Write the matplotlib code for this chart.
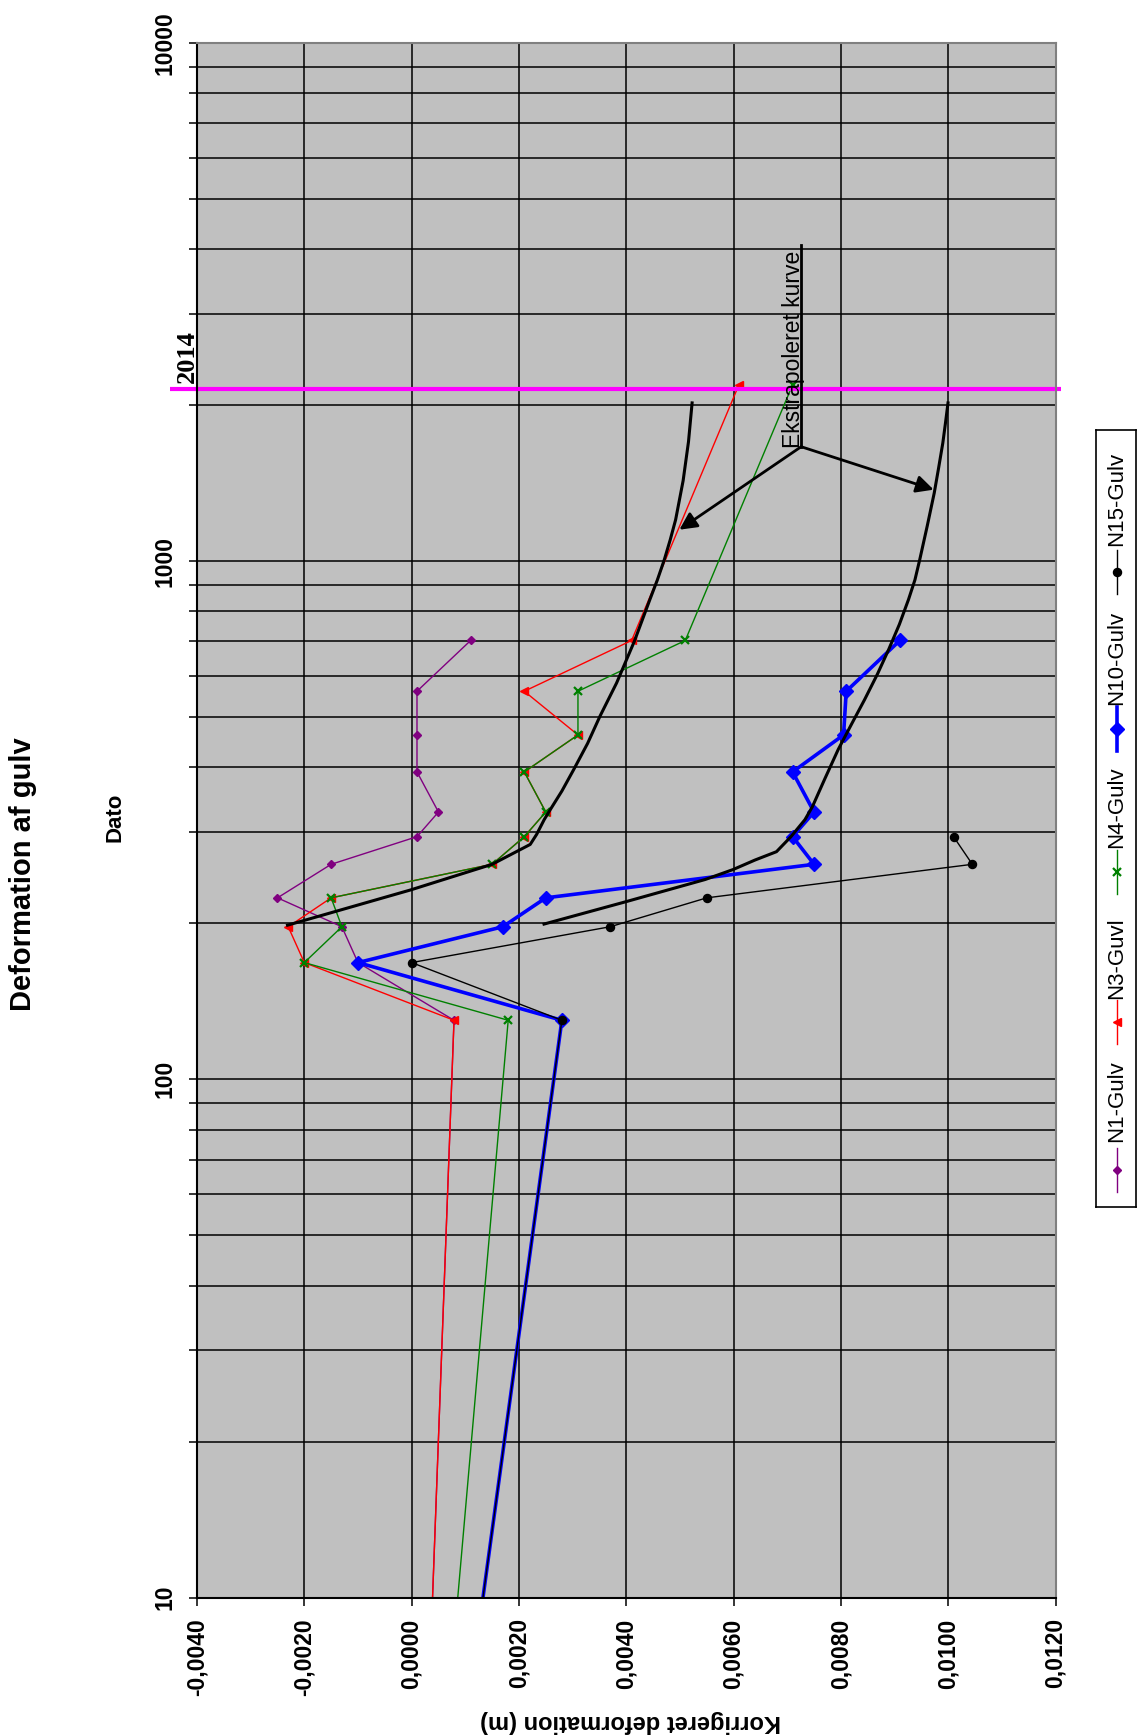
import numpy as np
import matplotlib
matplotlib.use("Agg")
import matplotlib.pyplot as plt
from matplotlib.ticker import LogLocator, NullFormatter

plt.rcParams["font.family"] = ["Liberation Sans", "DejaVu Sans"]

W, H = 1138, 1735

# Measurement days and corrected floor deformation (m)
days = [10, 130, 168, 197, 224, 260, 294, 328, 392, 462, 561, 703]
days_2014 = days + [2190]
n15_days = days[:7]

n1_gulv = [0.00039, 0.00079, -0.0010, -0.0013, -0.0025, -0.0015, 0.0001,
           0.0005, 0.0001, 0.0001, 0.0001, 0.0011]
n3_gulv = [0.00039, 0.00079, -0.0020, -0.0023, -0.0015, 0.0015, 0.0021,
           0.0025, 0.0021, 0.0031, 0.0021, 0.0041, 0.0061]
n4_gulv = [0.00086, 0.0018, -0.0020, -0.0013, -0.0015, 0.0015, 0.0021,
           0.0025, 0.0021, 0.0031, 0.0031, 0.0051, 0.0071]
n10_gulv = [0.00133, 0.0028, -0.0010, 0.0017, 0.0025, 0.0075, 0.0071,
            0.0075, 0.0071, 0.00805, 0.0081, 0.0091]
n15_gulv = [0.00133, 0.0028, 0.0000, 0.0037, 0.0055, 0.01045, 0.0101]

# Extrapolated settlement curves (mm)
ext_a_days = [198, 232, 260, 284, 297, 317, 331, 360, 396, 445, 502, 582, 700, 843,
              920, 1007, 1100, 1202, 1430, 1700, 2034]
ext_a_mm = [-2.34, -0.02, 1.50, 2.21, 2.33, 2.47, 2.58, 2.80, 3.02, 3.28, 3.51, 3.82,
            4.15, 4.44, 4.58, 4.71, 4.82, 4.92, 5.06, 5.16, 5.23]
ext_b_days = [199, 220, 243, 254, 265, 275, 294, 317, 336, 380, 433, 485, 540, 605,
              675, 755, 843, 920, 1007, 1170, 1354, 1510, 1691, 1850, 2034]
ext_b_mm = [2.44, 3.98, 5.47, 5.99, 6.40, 6.80, 7.07, 7.33, 7.47, 7.70, 7.95, 8.20,
            8.44, 8.68, 8.89, 9.09, 9.26, 9.38, 9.47, 9.61, 9.74, 9.82, 9.90, 9.95, 10.00]

day_2014 = 2150
deform_ticks = [-0.004, -0.002, 0.0, 0.002, 0.004, 0.006, 0.008, 0.010, 0.012]
day_ticks = [10, 100, 1000, 10000]

series = [
    ("N1-Gulv", days, n1_gulv, dict(color="#800080", marker="D", ms=3.8, lw=1.0)),
    ("N3-Guvl", days_2014, n3_gulv, dict(color="#FF0000", marker="<", ms=6, lw=1.0)),
    ("N4-Gulv", days_2014, n4_gulv, dict(color="#008000", marker="x", ms=5.5, mew=1.6, lw=1.0)),
    ("N10-Gulv", days, n10_gulv, dict(color="#0000FF", marker="D", ms=6.8, lw=2.6)),
    ("N15-Gulv", n15_days, n15_gulv, dict(color="#000000", marker="o", ms=5.8, lw=1.0)),
]


def fx(x):
    return x / W


def fy(y):
    return 1 - y / H


fig = plt.figure(figsize=(W / 100, H / 100), dpi=100)
left, right, top, bottom = 197, 1055.5, 43, 1597.5
ax = fig.add_axes([fx(left), fy(bottom), (right - left) / W, (bottom - top) / H])
ax.set_facecolor("#C0C0C0")
ax.set_yscale("log")
ax.set_xlim(-0.004, 0.012)
ax.set_ylim(10, 10000)

ax.set_xticks(deform_ticks)
ax.set_xticklabels([f"{v:.4f}".replace(".", ",") for v in deform_ticks])
ax.set_yticks(day_ticks)
ax.set_yticklabels([str(d) for d in day_ticks])
ax.yaxis.set_minor_locator(LogLocator(base=10, subs=np.arange(2, 10)))
ax.yaxis.set_minor_formatter(NullFormatter())

ax.set_axisbelow(True)
ax.grid(which="both", axis="y", color="black", lw=1.1)
ax.grid(which="major", axis="x", color="black", lw=1.1)
ax.tick_params(axis="both", which="both", direction="out", length=6, width=1.1, color="black")
ax.tick_params(axis="x", labelsize=16.5, pad=9, labelrotation=90)
ax.tick_params(axis="y", labelsize=16.5, pad=9, labelrotation=90)
for lbl in ax.get_xticklabels() + ax.get_yticklabels():
    lbl.set_fontweight("bold")
for lbl in ax.get_yticklabels():
    lbl.set_va("center")

for side in ("top", "right"):
    ax.spines[side].set_color("#808080")
    ax.spines[side].set_linewidth(1.5)
for side in ("left", "bottom"):
    ax.spines[side].set_color("black")
    ax.spines[side].set_linewidth(1.5)

# Measured series (first point is the start value, shown without marker)
for name, d, v, st in series:
    ax.plot(v, d, markevery=slice(1, None), label=name, **st)

# Extrapolated curves
ax.plot(np.array(ext_a_mm) / 1000, ext_a_days, color="black", lw=2.2,
        solid_capstyle="butt", solid_joinstyle="round")
ax.plot(np.array(ext_b_mm) / 1000, ext_b_days, color="black", lw=2.2,
        solid_capstyle="butt", solid_joinstyle="round")

# 2014 marker line
ax.plot([-0.0045, 0.0121], [day_2014, day_2014], color="#FF00FF", lw=3.0, clip_on=False,
        solid_capstyle="butt")
ax.annotate("2014", xy=(-0.00418, day_2014), xytext=(0, 6), textcoords="offset pixels",
            rotation=90, ha="center", va="bottom", fontsize=19, fontweight="bold",
            family=["Liberation Serif", "DejaVu Serif"], annotation_clip=False)

# Annotation for the extrapolated curves
arrow_origin = (0.00726, 1663)
ax.plot([arrow_origin[0], arrow_origin[0]], [arrow_origin[1], 4083], color="black", lw=2.0)
for head in [(0.00499, 1150), (0.00973, 1374)]:
    ax.annotate("", xy=head, xytext=arrow_origin,
                arrowprops=dict(arrowstyle="-|>", color="black", lw=2.0, mutation_scale=26,
                                shrinkA=0, shrinkB=0))
ax.text(0.00733, 1656, "Ekstrapoleret kurve", rotation=90, ha="right", va="bottom",
        fontsize=16.5, color="black")

# Axis titles
ax.set_ylabel("Dato", fontsize=16, fontweight="bold", rotation=90, ha="center", va="center")
ax.yaxis.set_label_coords((115 - left) / (right - left), (bottom - 817) / (bottom - top))
ax.set_xlabel("Korrigeret deformation (m)", fontsize=17, fontweight="bold", rotation=180,
              ha="center", va="center")
ax.xaxis.set_label_coords((631 - left) / (right - left), -(1721 - bottom) / (bottom - top))

fig.text(fx(23), fy(874), "Deformation af gulv", rotation=90, fontsize=21, fontweight="bold",
         ha="center", va="center")

# Legend, laid out vertically
leg_box = (1096, 430, 1136, 1207)
lax = fig.add_axes([fx(leg_box[0]), fy(leg_box[3]), (leg_box[2] - leg_box[0]) / W,
                    (leg_box[3] - leg_box[1]) / H])
lax.set_xlim(leg_box[0], leg_box[2])
lax.set_ylim(leg_box[3], leg_box[1])
lax.set_xticks([])
lax.set_yticks([])
for s in lax.spines.values():
    s.set_color("black")
    s.set_linewidth(1.2)
leg_pos = {"N1-Gulv": (1170, 1142), "N3-Guvl": (1022, 999), "N4-Gulv": (872, 848),
           "N10-Gulv": (729, 705), "N15-Gulv": (572, 546)}
xc = (leg_box[0] + leg_box[2]) / 2 + 1
for name, d, v, st in series:
    hc, tb = leg_pos[name]
    lax.plot([xc, xc], [hc - 22, hc + 22], color=st["color"], lw=st["lw"])
    lax.plot([xc], [hc], color=st["color"], marker=st["marker"], ms=st["ms"],
             mew=st.get("mew", 1.0), ls="none")
    lax.text(xc, tb, name, rotation=90, ha="center", va="bottom", fontsize=16)

fig.savefig("out.png", dpi=100)
